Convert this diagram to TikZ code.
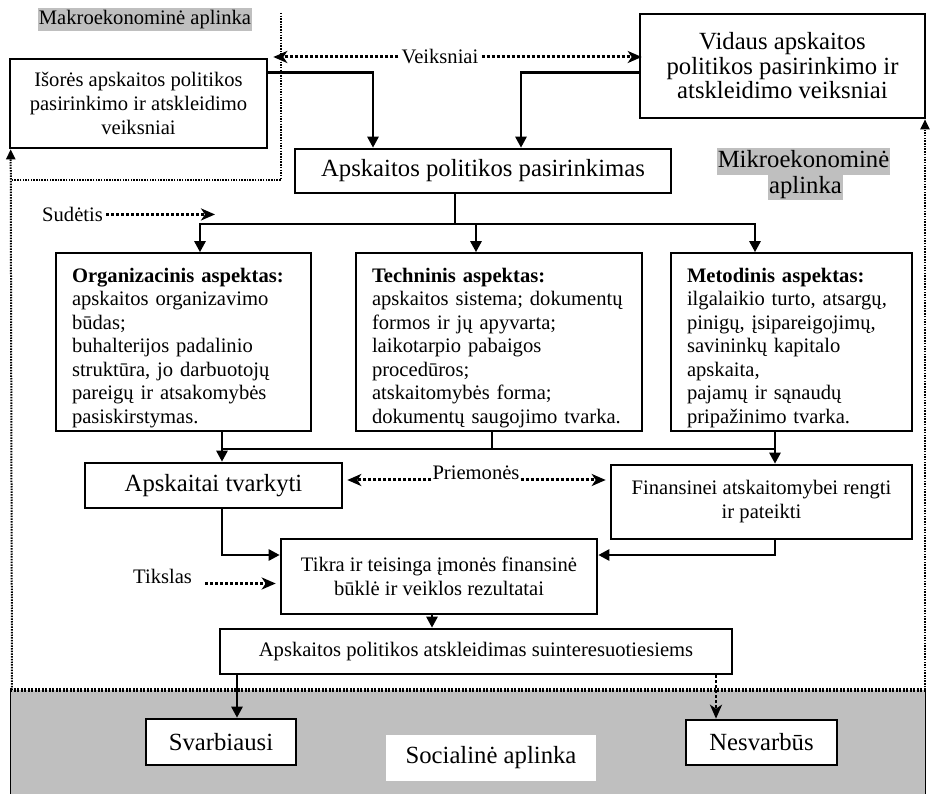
\documentclass[tikz,border=0pt]{standalone}
\usepackage{fontspec}
\setmainfont{Liberation Serif}
\usetikzlibrary{arrows.meta}
\tikzstyle{box} = [draw, line width=2.6pt, fill=white, inner sep=0pt, align=center]
\tikzstyle{aspect} = [draw, line width=1.6pt, fill=white, inner xsep=16pt, inner ysep=0pt, align=left]
\tikzstyle{lbl} = [inner sep=3pt]
\tikzstyle{shade} = [fill=gray!50, inner xsep=1pt, inner ysep=1pt]
\tikzstyle{bar} = [line width=2.6pt, line cap=rect]
\tikzstyle{link} = [line width=2.6pt, -{Triangle[length=11pt,width=11pt]}]
\tikzstyle{hint} = [line width=3pt, dotted, -{Stealth[length=14pt,width=12pt,inset=4pt]}]
\tikzstyle{frame} = [line width=2pt, dash pattern=on 1.5pt off 1.2pt]
\newcommand{\smtxt}{\fontsize{20.6}{24}\selectfont}
\newcommand{\bgtxt}{\fontsize{24.7}{24.5}\selectfont}
\newcommand{\astxt}{\fontsize{20.6}{23.5}\selectfont}
\newcommand{\hd}[1]{\rule{0pt}{25.5pt}\textbf{#1}}

\begin{document}
\begin{tikzpicture}[x=1pt,y=-1pt]
\useasboundingbox (0,0) rectangle (930,794);
% socialine aplinka
\fill[gray!50] (10,690) rectangle (926,794);
\draw[line width=1pt] (10.5,690) -- (10.5,794) (925.5,690) -- (925.5,794);
\draw[line width=3.5pt, dash pattern=on 2pt off 1.5pt] (10,690) -- (927,690);
\coordinate (mk1) at (281,13);
\coordinate (mk2) at (281,180);
\coordinate (fl) at (12,690);
\coordinate (fr) at (925,690);
\draw[frame] (mk1) -- (mk2) -- (mk2 -| fl);
% nodes
\node[shade, font=\smtxt, text height=16pt, text depth=5pt] (makro) at (145,19.5) {Makroekonominė aplinka};
\node[box, font=\smtxt, minimum width=257pt, minimum height=89pt] (isores) at (138.5,103.5) {Išorės apskaitos politikos\\pasirinkimo ir atskleidimo\\veiksniai};
\node[box, font=\bgtxt, minimum width=285pt, minimum height=104pt] (vidaus) at (782.5,66) {Vidaus apskaitos\\politikos pasirinkimo ir\\atskleidimo veiksniai};
\node[lbl, font=\smtxt] (veiksn) at (440,57) {Veiksniai};
\node[box, font=\bgtxt, minimum width=376pt, minimum height=44pt] (pasir) at (483,171) {Apskaitos politikos pasirinkimas};
\node[shade, font=\bgtxt, text height=19pt, text depth=6pt] (mikro) at (803.5,161.5) {Mikroekonominė};
\node[shade, font=\bgtxt, text height=18pt, text depth=6pt] (mikrob) at (805.5,187.5) {aplinka};
\node[lbl, font=\smtxt, anchor=base west] (sudetis) at (39,221.5) {Sudėtis};
\coordinate (sudtip) at (215,213);
\node[aspect, font=\astxt, text width=223pt, minimum height=178pt] (org) at (183.5,342) {\hd{Organizacinis aspektas:}\\apskaitos organizavimo\\būdas;\\buhalterijos padalinio\\struktūra, jo darbuotojų\\pareigų ir atsakomybės\\pasiskirstymas.};
\node[aspect, font=\astxt, text width=254pt, minimum height=178pt] (tech) at (499,342) {\hd{Techninis aspektas:}\\apskaitos sistema; dokumentų\\formos ir jų apyvarta;\\laikotarpio pabaigos\\procedūros;\\atskaitomybės forma;\\dokumentų saugojimo tvarka.};
\node[aspect, font=\astxt, text width=209pt, minimum height=178pt] (met) at (791.5,342) {\hd{Metodinis aspektas:}\\ilgalaikio turto, atsargų,\\pinigų, įsipareigojimų,\\savininkų kapitalo\\apskaita,\\pajamų ir sąnaudų\\pripažinimo tvarka.};
\node[box, font=\bgtxt, minimum width=257pt, minimum height=45pt] (tvark) at (213.5,485.5) {Apskaitai tvarkyti};
\node[box, font=\smtxt, minimum width=301pt, minimum height=74pt] (finans) at (761.5,502) {Finansinei atskaitomybei rengti\\ir pateikti};
\node[lbl, inner sep=1pt, font=\smtxt, anchor=base] (priem) at (476,480) {Priemonės};
\node[box, font=\smtxt, minimum width=316pt, minimum height=75pt] (tikra) at (439,576.5) {Tikra ir teisinga įmonės finansinė\\būklė ir veiklos rezultatai};
\node[lbl, font=\smtxt, anchor=base west] (tikslas) at (130,583.5) {Tikslas};
\node[box, font=\smtxt, minimum width=512pt, minimum height=45pt] (atskl) at (476,651.5) {Apskaitos politikos atskleidimas suinteresuotiesiems};
\node[fill=white, font=\bgtxt, minimum width=210pt, minimum height=46pt] (social) at (491,758) {Socialinė aplinka};
\node[box, font=\bgtxt, minimum width=150pt, minimum height=46pt] (svarb) at (221,742) {Svarbiausi};
\node[box, font=\bgtxt, minimum width=151pt, minimum height=45pt] (nesv) at (761.5,742.5) {Nesvarbūs};
% connectors
\draw[frame, -{Triangle[length=10pt,width=9pt]}] (fl) -- ([xshift=2pt]isores.south west);
\draw[frame, -{Triangle[length=10pt,width=9pt]}] (fr) -- (fr |- vidaus.south);
\draw[hint] (veiksn.west) -- ([xshift=5pt]isores.east |- veiksn.west);
\draw[hint] (veiksn.east) -- ([xshift=3pt]vidaus.west |- veiksn.east);
\draw[link] ([yshift=-15pt]isores.north east) -| ([xshift=-110pt]pasir.north);
\draw[link] ([yshift=-60pt]vidaus.north west) -| ([xshift=38pt]pasir.north);
\draw[hint] (sudetis.east) -- (sudetis.east -| sudtip);
\coordinate (s1) at (200,224);
\coordinate (s2) at (476,224);
\coordinate (s3) at (755,224);
\draw[bar] ([xshift=-28pt]pasir.south) -- ([xshift=-28pt]pasir.south |- s1);
\draw[link] ([xshift=-28pt]pasir.south |- s1) -| (s1 |- org.north);
\draw[link] ([xshift=-28pt]pasir.south |- s1) -| (s3 |- met.north);
\draw[link] (s2) -- (s2 |- tech.north);
\coordinate (b1) at (222,449);
\coordinate (b2) at (492,449);
\coordinate (b3) at (775,449);
\draw[bar] (b1) -- (b3);
\draw[bar] (b2 |- tech.south) -- (b2);
\draw[link] (b1 |- org.south) -- (b1 |- tvark.north);
\draw[link] (b3 |- met.south) -- (b3 |- finans.north);
\draw[hint] (priem.base west) -- ([xshift=4pt]tvark.east |- priem.base);
\draw[hint] (priem.base east) -- ([xshift=-4pt]finans.west |- priem.base);
\draw[link] ([xshift=8.5pt]tvark.south) |- ([yshift=21.5pt]tikra.west);
\draw[link] ([xshift=13.5pt]finans.south) |- ([yshift=21.5pt]tikra.east);
\draw[hint] ([xshift=10pt]tikslas.base east) -- ([xshift=-4pt]tikra.west |- tikslas.base);
\draw[link] ([xshift=-7pt]tikra.south) -- ([xshift=-7pt]tikra.south |- atskl.north);
\draw[link] ([xshift=16pt]svarb.north |- atskl.south) -- ([xshift=16pt]svarb.north);
\draw[hint, line width=2.5pt] ([xshift=-45.5pt]nesv.north |- atskl.south) -- ([xshift=-45.5pt]nesv.north);
\end{tikzpicture}
\end{document}
